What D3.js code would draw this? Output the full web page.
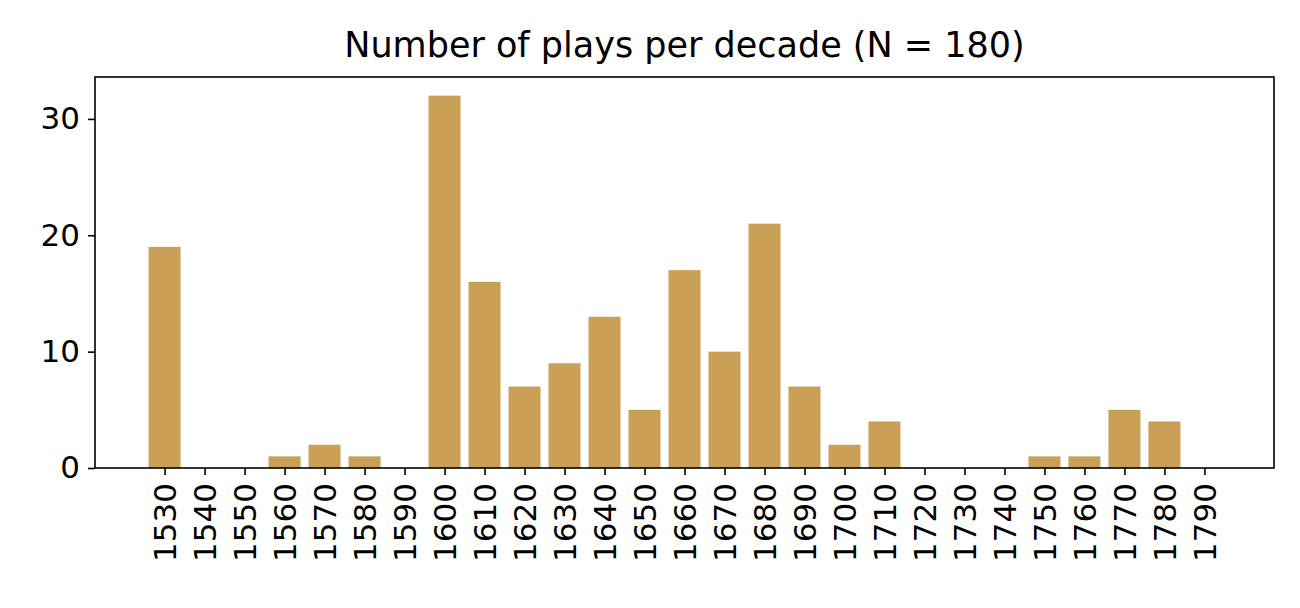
<!DOCTYPE html>
<html><head><meta charset="utf-8">
<script src="https://cdn.jsdelivr.net/npm/d3@7"></script>
<style>body{margin:0;background:#fff}text{font-family:"DejaVu Sans",sans-serif;fill:#000}</style>
</head><body><svg id="c" width="1300" height="608"></svg>
<script>
const decades=["1530","1540","1550","1560","1570","1580","1590","1600","1610","1620","1630","1640","1650","1660","1670","1680","1690","1700","1710","1720","1730","1740","1750","1760","1770","1780","1790"];
const counts=[19,0,0,1,2,1,0,32,16,7,9,13,5,17,10,21,7,2,4,0,0,0,1,1,5,4,0];
const yTicks=[0,10,20,30];
const svg=d3.select("#c");
const L=95,R=1274,T=77,B=468;
const x=d3.scaleLinear().domain([-1.74,decades.length-1+1.74]).range([L,R]);
const y=d3.scaleLinear().domain([0,33.6]).range([B,T]);
const bw=x(0.4)-x(-0.4);
svg.selectAll("rect.bar").data(counts).enter().append("rect").attr("class","bar")
 .attr("x",(d,i)=>x(i)-bw/2).attr("width",bw).attr("y",d=>y(d)).attr("height",d=>B-y(d)).attr("fill","#c9a055");
svg.append("rect").attr("x",L).attr("y",T).attr("width",R-L).attr("height",B-T).attr("fill","none").attr("stroke","#000").attr("stroke-width",1.6);
const ya=svg.append("g").attr("transform",`translate(${L},0)`).call(d3.axisLeft(y).tickValues(yTicks).tickSize(7).tickPadding(8));
ya.select(".domain").remove();
ya.selectAll("text").style("font-size","31px").style("font-family","DejaVu Sans");
ya.selectAll("line").attr("stroke-width",1.6);
const xa=svg.append("g").attr("transform",`translate(0,${B})`).call(d3.axisBottom(x).tickValues(d3.range(decades.length)).tickFormat(i=>decades[i]).tickSize(7).tickPadding(6));
xa.select(".domain").remove();
xa.selectAll("line").attr("stroke-width",1.6);
xa.selectAll("text").style("font-size","31px").style("font-family","DejaVu Sans")
 .attr("transform","rotate(-90)").attr("text-anchor","end").attr("x",-15).attr("y",0).attr("dy","0.35em");
svg.append("text").attr("x",(L+R)/2+0).attr("y",57).attr("text-anchor","middle").style("font-size","35px").text("Number of plays per decade (N = 180)");
</script></body></html>
